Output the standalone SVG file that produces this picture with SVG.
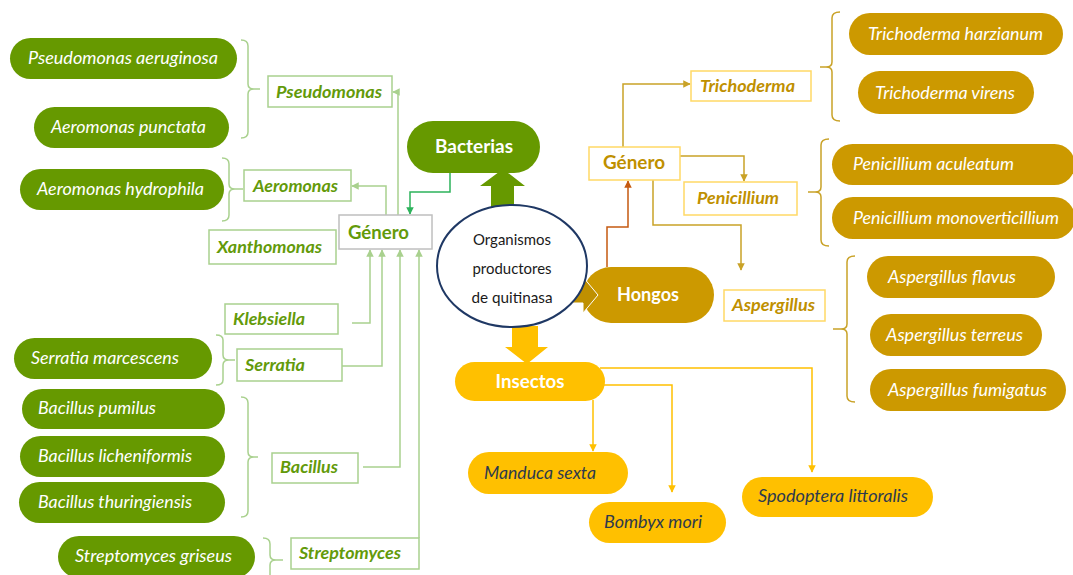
<svg xmlns="http://www.w3.org/2000/svg" width="1073" height="575" viewBox="0 0 1073 575">
<defs>
<style>
text{font-family:Lato,"Open Sans","Liberation Sans",sans-serif;}
.gp{fill:#669900;}
.yp{fill:#CC9900;}
.ip{fill:#FFC000;}
.pt{fill:#fff;font-style:italic;font-size:17.5px;}
.it{fill:#2E3A4D;font-style:italic;font-size:17.5px;}
.gb{fill:#fff;stroke:#A9D18E;stroke-width:1.5;}
.yb{fill:#fff;stroke:#FFD966;stroke-width:1.5;}
.gt{fill:#639A0A;font-style:italic;font-weight:bold;font-size:17.5px;}
.yt{fill:#BF9000;font-style:italic;font-weight:bold;font-size:17.5px;}
.br-g{fill:none;stroke:#A9D18E;stroke-width:1.5;}
.br-y{fill:none;stroke:#C9A227;stroke-width:1.5;}
.cg{fill:none;stroke:#A9D18E;stroke-width:1.5;}
.ct{fill:none;stroke:#2DB35B;stroke-width:1.5;}
.cy{fill:none;stroke:#C9A227;stroke-width:1.5;}
.co{fill:none;stroke:#C55A11;stroke-width:1.5;}
.ci{fill:none;stroke:#FFC000;stroke-width:1.5;}
.big{fill:#fff;font-weight:bold;font-size:19px;text-anchor:middle;}
.ctr{font-size:15px;fill:#1a1a1a;text-anchor:middle;}
</style>
<marker id="ag" viewBox="0 0 10 10" refX="9" refY="5" markerWidth="5" markerHeight="5" orient="auto"><path d="M0,0L10,5L0,10z" fill="#A9D18E"/></marker>
<marker id="at" viewBox="0 0 10 10" refX="9" refY="5" markerWidth="5" markerHeight="5" orient="auto"><path d="M0,0L10,5L0,10z" fill="#2DB35B"/></marker>
<marker id="ay" viewBox="0 0 10 10" refX="9" refY="5" markerWidth="5" markerHeight="5" orient="auto"><path d="M0,0L10,5L0,10z" fill="#C9A227"/></marker>
<marker id="ao" viewBox="0 0 10 10" refX="9" refY="5" markerWidth="5" markerHeight="5" orient="auto"><path d="M0,0L10,5L0,10z" fill="#C55A11"/></marker>
<marker id="ai" viewBox="0 0 10 10" refX="9" refY="5" markerWidth="5" markerHeight="5" orient="auto"><path d="M0,0L10,5L0,10z" fill="#FFC000"/></marker>
</defs>
<rect width="1073" height="575" fill="#fff"/>

<g id="connectors">
<path class="cg" d="M398,215V92H393" marker-end="url(#ag)"/>
<path class="cg" d="M386,215V186H352" marker-end="url(#ag)"/>
<path class="ct" d="M450,173V192H410V214" marker-end="url(#at)"/>
<path class="cg" d="M352,323H370V250" marker-end="url(#ag)"/>
<path class="cg" d="M342,366H382V250" marker-end="url(#ag)"/>
<path class="cg" d="M363,467H400V250" marker-end="url(#ag)"/>
<path class="cg" d="M419,538V250" marker-end="url(#ag)"/>
<path class="co" d="M607,267V227H628V181" marker-end="url(#ao)"/>
<path class="cy" d="M623,147V84H690" marker-end="url(#ay)"/>
<path class="cy" d="M680,156H744V181" marker-end="url(#ay)"/>
<path class="cy" d="M653,180V225H741V270" marker-end="url(#ay)"/>
<path class="ci" d="M600,368H812V472" marker-end="url(#ai)"/>
<path class="ci" d="M603,385H672V492" marker-end="url(#ai)"/>
<path class="ci" d="M593,400V451" marker-end="url(#ai)"/>
<path class="br-g" d="M241,40Q248,40 248,46V84Q248,89 254,89H260M254,89Q248,89 248,94V132Q248,138 241,138"/>
<path class="br-g" d="M222,158Q229,158 229,164V184Q229,189 235,189H243M235,189Q229,189 229,194V215Q229,221 222,221"/>
<path class="br-g" d="M216,335Q223,335 223,340V355Q223,360 229,360H235M229,360Q223,360 223,365V380Q223,385 216,385"/>
<path class="br-g" d="M241,397Q248,397 248,403V452Q248,457 254,457H258M254,457Q248,457 248,462V511Q248,517 241,517"/>
<path class="br-g" d="M263,538Q270,538 270,544V555Q270,560 276,560H283M276,560Q270,560 270,565V590"/>
<path class="br-y" d="M840,12Q832,12 832,18V62Q832,67 826,67H820M826,67Q832,67 832,72V115Q832,121 840,121"/>
<path class="br-y" d="M829,139Q821,139 821,145V187Q821,192 815,192H808M815,192Q821,192 821,197V240Q821,246 829,246"/>
<path class="br-y" d="M855,256Q847,256 847,262V324Q847,329 841,329H833M841,329Q847,329 847,334V396Q847,402 855,402"/>
</g>

<g id="big-arrows">
<polygon points="491,212 491,186 480,186 503,169 525,186 514,186 514,212" fill="#669900"/>
<polygon points="512,326 538,326 538,347 548,347 527,364 505,347 512,347" fill="#FFC000"/>
</g>

<g id="bacterias"><rect x="407" y="121" width="133" height="52" rx="26" class="gp"/><text x="474" y="153" class="big" textLength="78" lengthAdjust="spacingAndGlyphs">Bacterias</text></g>
<g id="hongos"><rect x="583" y="267" width="131" height="56" rx="28" class="yp"/><text x="648" y="301" class="big" textLength="62" lengthAdjust="spacingAndGlyphs">Hongos</text></g>
<g id="insectos"><rect x="455" y="362" width="150" height="39" rx="19.5" class="ip"/><text x="530" y="388" class="big" textLength="69" lengthAdjust="spacingAndGlyphs">Insectos</text></g>
<g id="hongos-arrow"><polygon points="560,283 583,283 583,277 598,295 583,313 583,303 560,303" fill="#BF9000" stroke="#fff" stroke-width="1"/></g>

<g id="centro"><ellipse cx="512" cy="266" rx="75" ry="61" fill="#fff" stroke="#1F3864" stroke-width="2"/>
<text x="512" y="245" class="ctr" textLength="78" lengthAdjust="spacingAndGlyphs">Organismos</text>
<text x="512" y="274" class="ctr" textLength="79" lengthAdjust="spacingAndGlyphs">productores</text>
<text x="512" y="303" class="ctr" textLength="81" lengthAdjust="spacingAndGlyphs">de quitinasa</text></g>

<g id="genero-b"><rect x="339" y="215" width="93" height="34" fill="#fff" stroke="#BFBFBF" stroke-width="1.5"/><text x="348" y="239" font-size="18.5" font-weight="bold" fill="#639A0A" textLength="61" lengthAdjust="spacingAndGlyphs">Género</text></g>
<g id="pseudomonas"><rect x="268" y="76" width="124" height="31" class="gb"/><text x="276" y="98" class="gt" textLength="106" lengthAdjust="spacingAndGlyphs">Pseudomonas</text></g>
<g id="aeromonas"><rect x="244" y="170" width="107" height="31" class="gb"/><text x="253" y="192" class="gt" textLength="85" lengthAdjust="spacingAndGlyphs">Aeromonas</text></g>
<g id="xanthomonas"><rect x="209" y="230" width="127" height="34" class="gb"/><text x="217" y="253" class="gt" textLength="105" lengthAdjust="spacingAndGlyphs">Xanthomonas</text></g>
<g id="klebsiella"><rect x="225" y="304" width="113" height="30" class="gb"/><text x="233" y="325" class="gt" textLength="72" lengthAdjust="spacingAndGlyphs">Klebsiella</text></g>
<g id="serratia"><rect x="237" y="349" width="105" height="32" class="gb"/><text x="245" y="371" class="gt" textLength="60" lengthAdjust="spacingAndGlyphs">Serratia</text></g>
<g id="bacillus"><rect x="272" y="453" width="86" height="30" class="gb"/><text x="280" y="473" class="gt" textLength="58" lengthAdjust="spacingAndGlyphs">Bacillus</text></g>
<g id="streptomyces"><rect x="291" y="538" width="128" height="31" class="gb"/><text x="299" y="559" class="gt" textLength="102" lengthAdjust="spacingAndGlyphs">Streptomyces</text></g>

<g id="p-aeruginosa"><rect x="10" y="38" width="227" height="41" rx="20.5" class="gp"/><text x="28" y="64" class="pt" textLength="190" lengthAdjust="spacingAndGlyphs">Pseudomonas aeruginosa</text></g>
<g id="a-punctata"><rect x="34" y="107" width="195" height="41" rx="20.5" class="gp"/><text x="51" y="133" class="pt" textLength="155" lengthAdjust="spacingAndGlyphs">Aeromonas punctata</text></g>
<g id="a-hydrophila"><rect x="20" y="169" width="204" height="41" rx="20.5" class="gp"/><text x="37" y="195" class="pt" textLength="167" lengthAdjust="spacingAndGlyphs">Aeromonas hydrophila</text></g>
<g id="s-marcescens"><rect x="14" y="338" width="198" height="41" rx="20.5" class="gp"/><text x="31" y="364" class="pt" textLength="148" lengthAdjust="spacingAndGlyphs">Serratia marcescens</text></g>
<g id="b-pumilus"><rect x="22" y="389" width="203" height="40" rx="20" class="gp"/><text x="38" y="414" class="pt" textLength="118" lengthAdjust="spacingAndGlyphs">Bacillus pumilus</text></g>
<g id="b-licheniformis"><rect x="20" y="436" width="205" height="41" rx="20.5" class="gp"/><text x="38" y="462" class="pt" textLength="154" lengthAdjust="spacingAndGlyphs">Bacillus licheniformis</text></g>
<g id="b-thuringiensis"><rect x="19" y="482" width="206" height="41" rx="20.5" class="gp"/><text x="38" y="508" class="pt" textLength="154" lengthAdjust="spacingAndGlyphs">Bacillus thuringiensis</text></g>
<g id="s-griseus"><rect x="58" y="536" width="197" height="42" rx="21" class="gp"/><text x="75" y="562" class="pt" textLength="157" lengthAdjust="spacingAndGlyphs">Streptomyces griseus</text></g>

<g id="genero-h"><rect x="589" y="147" width="91" height="33" class="yb"/><text x="603" y="169" font-size="18.5" font-weight="bold" fill="#BF9000" textLength="62" lengthAdjust="spacingAndGlyphs">Género</text></g>
<g id="trichoderma"><rect x="691" y="71" width="120" height="30" class="yb"/><text x="700" y="92" class="yt" textLength="95" lengthAdjust="spacingAndGlyphs">Trichoderma</text></g>
<g id="penicillium"><rect x="684" y="182" width="113" height="33" class="yb"/><text x="697" y="204" class="yt" textLength="82" lengthAdjust="spacingAndGlyphs">Penicillium</text></g>
<g id="aspergillus"><rect x="724" y="290" width="101" height="31" class="yb"/><text x="732" y="311" class="yt" textLength="83" lengthAdjust="spacingAndGlyphs">Aspergillus</text></g>

<g id="t-harzianum"><rect x="849" y="13" width="214" height="42" rx="21" class="yp"/><text x="868" y="40" class="pt" textLength="175" lengthAdjust="spacingAndGlyphs">Trichoderma harzianum</text></g>
<g id="t-virens"><rect x="858" y="71" width="176" height="43" rx="21.5" class="yp"/><text x="875" y="99" class="pt" textLength="140" lengthAdjust="spacingAndGlyphs">Trichoderma virens</text></g>
<g id="p-aculeatum"><rect x="832" y="144" width="243" height="41" rx="20.5" class="yp"/><text x="853" y="170" class="pt" textLength="161" lengthAdjust="spacingAndGlyphs">Penicillium aculeatum</text></g>
<g id="p-monoverticillium"><rect x="832" y="197" width="243" height="42" rx="21" class="yp"/><text x="853" y="224" class="pt" textLength="206" lengthAdjust="spacingAndGlyphs">Penicillium monoverticillium</text></g>
<g id="a-flavus"><rect x="867" y="256" width="188" height="42" rx="21" class="yp"/><text x="888" y="283" class="pt" textLength="128" lengthAdjust="spacingAndGlyphs">Aspergillus flavus</text></g>
<g id="a-terreus"><rect x="870" y="314" width="172" height="42" rx="21" class="yp"/><text x="886" y="341" class="pt" textLength="137" lengthAdjust="spacingAndGlyphs">Aspergillus terreus</text></g>
<g id="a-fumigatus"><rect x="870" y="369" width="196" height="42" rx="21" class="yp"/><text x="888" y="396" class="pt" textLength="159" lengthAdjust="spacingAndGlyphs">Aspergillus fumigatus</text></g>

<g id="manduca"><rect x="468" y="452" width="160" height="42" rx="21" class="ip"/><text x="484" y="479" class="it" textLength="112" lengthAdjust="spacingAndGlyphs">Manduca sexta</text></g>
<g id="bombyx"><rect x="589" y="502" width="137" height="41" rx="20.5" class="ip"/><text x="604" y="528" class="it" textLength="98" lengthAdjust="spacingAndGlyphs">Bombyx mori</text></g>
<g id="spodoptera"><rect x="742" y="477" width="191" height="40" rx="20" class="ip"/><text x="758" y="502" class="it" textLength="150" lengthAdjust="spacingAndGlyphs">Spodoptera littoralis</text></g>
</svg>
